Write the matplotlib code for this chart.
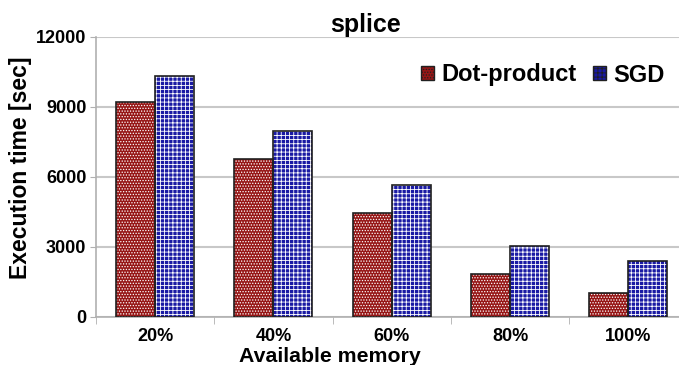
import numpy as np
import matplotlib.pyplot as plt
from matplotlib.patches import Patch

plt.rcParams['font.family'] = ['Liberation Sans', 'DejaVu Sans']
plt.rcParams['font.weight'] = 'bold'
plt.rcParams['hatch.linewidth'] = 0.6

categories = ['20%', '40%', '60%', '80%', '100%']
dot_product = [9200, 6750, 4430, 1830, 1000]
sgd = [10300, 7950, 5650, 3050, 2400]

fig = plt.figure(figsize=(6.79, 3.65), dpi=100)
ax = fig.add_axes([0.1414, 0.1323, 0.8711, 0.7672])

x = np.arange(len(categories))
w = 0.33
red_face = '#961616'
blue_face = '#1a1aa4'

# fill + white pattern first, then black outline on top
ax.bar(x - w/2, dot_product, w, color=red_face, hatch='......', edgecolor='white', linewidth=0, zorder=3)
ax.bar(x + w/2, sgd, w, color=blue_face, hatch='++++', edgecolor='white', linewidth=0, zorder=3)
ax.bar(x - w/2, dot_product, w, fill=False, edgecolor='#202020', linewidth=1.2, zorder=4)
ax.bar(x + w/2, sgd, w, fill=False, edgecolor='#202020', linewidth=1.2, zorder=4)

ax.set_xlim(-0.5, len(categories) - 0.5)
ax.set_ylim(0, 12000)
ax.set_yticks([0, 3000, 6000, 9000, 12000])
ax.yaxis.grid(True, color='#c8c8c8', linewidth=1.5, zorder=0)
ax.set_axisbelow(True)

ax.set_xticks(x)
ax.set_xticklabels(categories, fontsize=13, fontweight='bold')
ax.set_xticks(np.arange(len(categories) + 1) - 0.5, minor=True)
ax.tick_params(axis='x', which='major', length=0, pad=8)
ax.tick_params(axis='x', which='minor', length=5, color='#b0b0b0')
ax.tick_params(axis='y', length=4, color='#b0b0b0', labelsize=13, pad=3)
for t in ax.get_yticklabels():
    t.set_fontweight('bold')

for s in ['top', 'right']:
    ax.spines[s].set_visible(False)
for s in ['left', 'bottom']:
    ax.spines[s].set_color('#b0b0b0')
    ax.spines[s].set_linewidth(1.2)

ax.set_ylabel('Execution time [sec]', fontsize=16.5, fontweight='bold')
ax.yaxis.set_label_coords(-0.108, 0.532)
ax.set_xlabel('Available memory', fontsize=15.3, fontweight='bold')
ax.xaxis.set_label_coords(0.396, -0.107)
ax.set_title('splice', fontsize=18, fontweight='bold', x=0.455, pad=3)

handles = [Patch(facecolor=red_face, edgecolor='#202020', hatch='......', label='Dot-product'),
           Patch(facecolor=blue_face, edgecolor='#202020', hatch='++++', label='SGD')]
leg = ax.legend(handles=handles, loc='center right', bbox_to_anchor=(676/679, 1 - 75/365),
                bbox_transform=fig.transFigure, ncol=2, frameon=False,
                prop={'size': 17, 'weight': 'bold'}, handlelength=0.55, handleheight=0.55,
                handletextpad=0.3, columnspacing=0.7, borderpad=0)

fig.savefig('out.png', dpi=100)
